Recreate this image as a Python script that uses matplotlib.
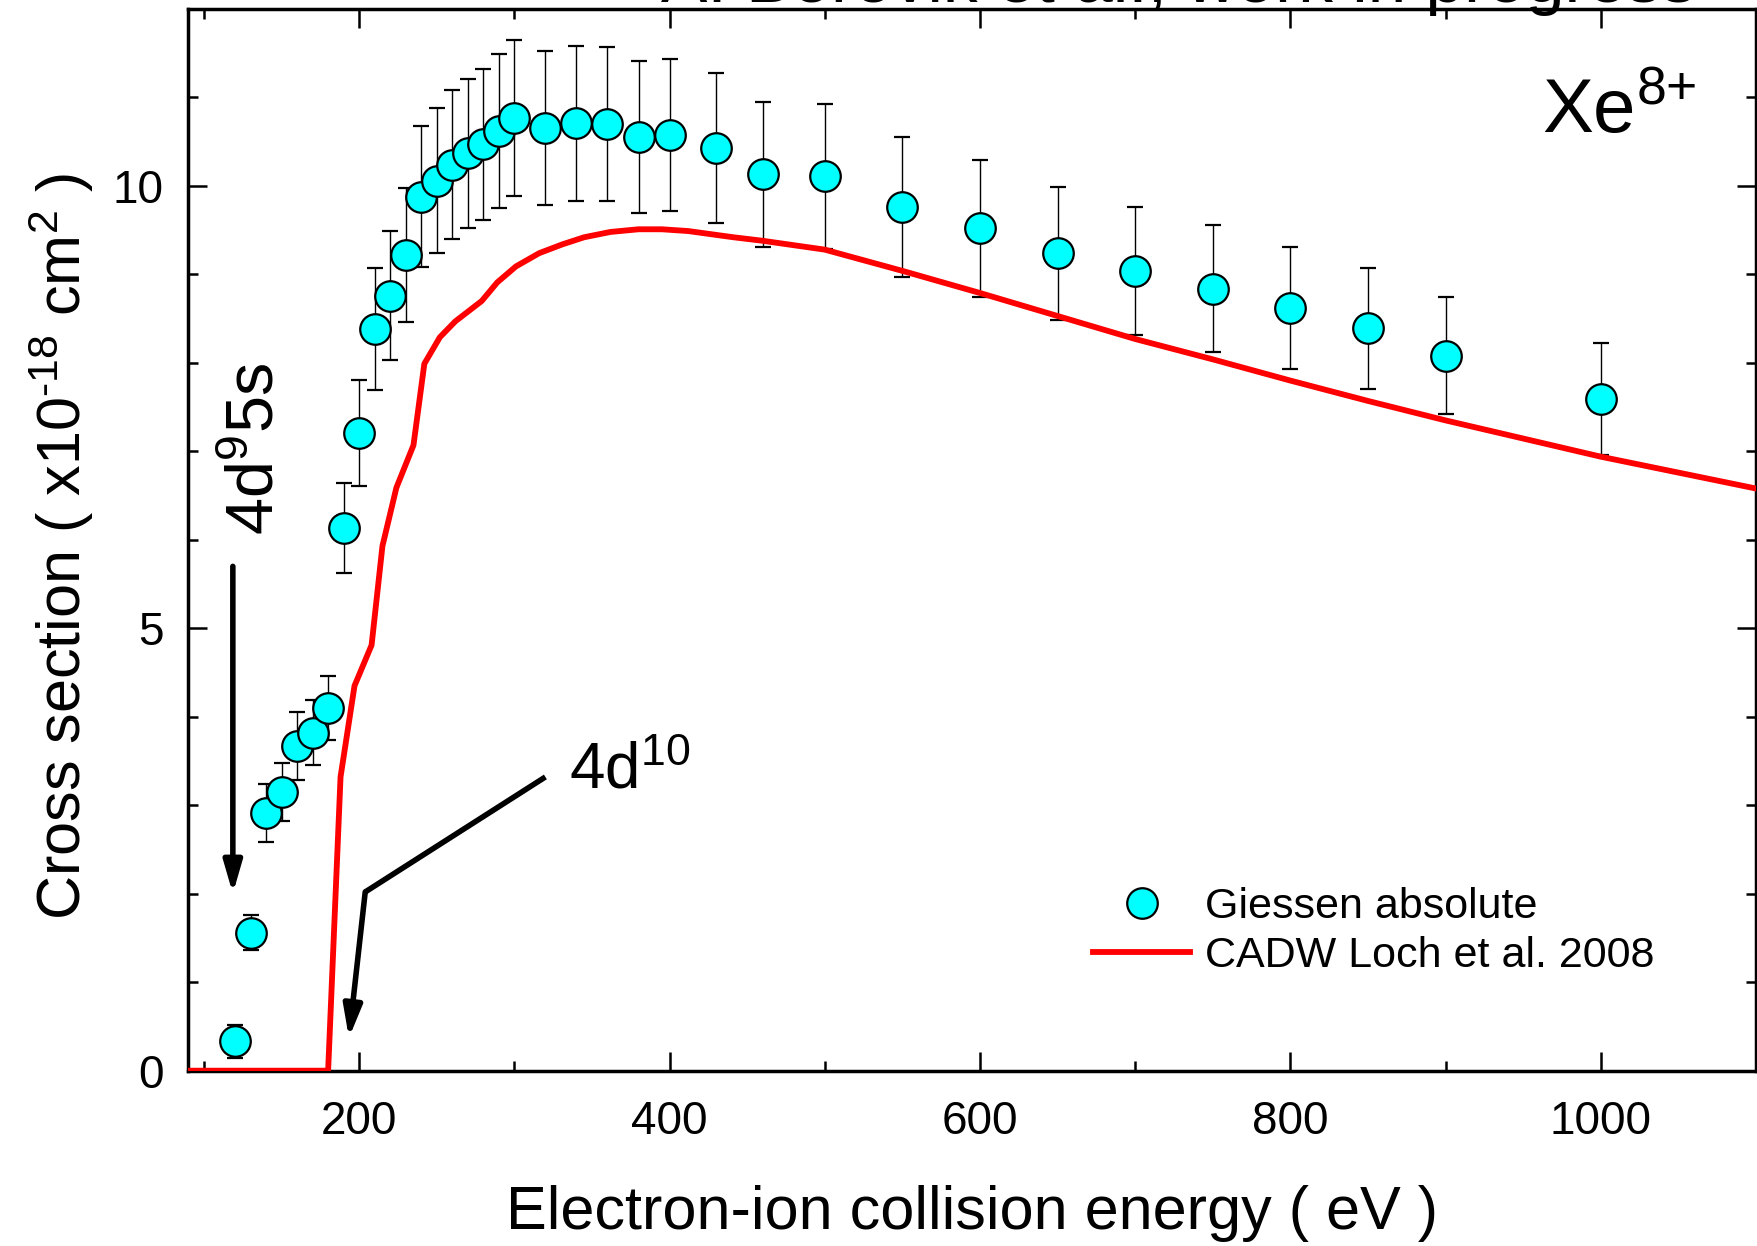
import matplotlib
matplotlib.use("Agg")
import matplotlib.pyplot as plt
from matplotlib.lines import Line2D
from matplotlib.ticker import MultipleLocator

plt.rcParams['font.family'] = ['Liberation Sans', 'DejaVu Sans']
plt.rcParams['mathtext.fontset'] = 'custom'
plt.rcParams['mathtext.rm'] = 'Liberation Sans'
plt.rcParams['mathtext.it'] = 'Liberation Sans:italic'
plt.rcParams['mathtext.default'] = 'rm'

# Giessen absolute measurement (eV, 1e-18 cm^2)
giessen_energy = [120, 130, 140, 150, 160, 170, 180, 190, 200, 210, 220, 230,
                  240, 250, 260, 270, 280, 290, 300, 320, 340, 360, 380, 400,
                  430, 460, 500, 550, 600, 650, 700, 750, 800, 850, 900, 1000]
giessen_sigma = [0.33, 1.56, 2.91, 3.15, 3.67, 3.82, 4.10, 6.13, 7.21, 8.38, 8.76, 9.22,
                 9.88, 10.06, 10.24, 10.37, 10.47, 10.62, 10.77, 10.65, 10.71, 10.70, 10.55, 10.58,
                 10.43, 10.13, 10.11, 9.76, 9.52, 9.24, 9.04, 8.84, 8.62, 8.39, 8.08, 7.59]
giessen_err = [0.19, 0.20, 0.33, 0.33, 0.38, 0.37, 0.36, 0.51, 0.60, 0.69, 0.73, 0.76,
               0.80, 0.82, 0.84, 0.84, 0.85, 0.87, 0.88, 0.87, 0.875, 0.87, 0.86, 0.86,
               0.85, 0.82, 0.82, 0.79, 0.77, 0.75, 0.725, 0.72, 0.69, 0.685, 0.66, 0.63]

# CADW theory, Loch et al. 2008
cadw_energy = [90, 180, 188, 197, 208, 215, 224, 235, 242, 252, 262, 279, 289, 301,
               316, 331, 345, 362, 380, 395, 412, 441, 460, 500, 550, 600, 650, 700,
               750, 800, 850, 900, 1000, 1100]
cadw_sigma = [0, 0, 3.32, 4.35, 4.81, 5.93, 6.59, 7.07, 7.99, 8.29, 8.47, 8.70, 8.91, 9.09,
              9.24, 9.34, 9.42, 9.48, 9.51, 9.51, 9.49, 9.42, 9.38, 9.28, 9.04, 8.79, 8.53, 8.27,
              8.04, 7.80, 7.57, 7.35, 6.94, 6.58]

fig = plt.figure(figsize=(17.58, 12.46), dpi=100)
ax = fig.add_axes([0.1072, 0.1407, 0.8916, 0.8521])

marker_style = dict(marker='o', ms=22, mfc='#00FFFF', mec='black', mew=1.6)
ax.errorbar(giessen_energy, giessen_sigma, yerr=giessen_err, ls='none',
            ecolor='black', elinewidth=1.0, capsize=6, capthick=1.5,
            zorder=2, **marker_style)
ax.plot(cadw_energy, cadw_sigma, color='#FF0000', lw=4.2, zorder=3)

ax.set_xlim(90, 1100)
ax.set_ylim(0, 12)
ax.xaxis.set_major_locator(MultipleLocator(200))
ax.xaxis.set_minor_locator(MultipleLocator(100))
ax.yaxis.set_major_locator(MultipleLocator(5))
ax.yaxis.set_minor_locator(MultipleLocator(1))
ax.tick_params(which='both', direction='in', top=True, right=True, width=1.8,
               labelsize=33)
ax.tick_params(which='major', length=14)
ax.tick_params(which='minor', length=7)
ax.tick_params(axis='x', pad=21)
ax.tick_params(axis='y', pad=18)
for s in ax.spines.values():
    s.set_linewidth(2.5)

ax.set_xlabel('Electron-ion collision energy ( eV )', fontsize=44)
ax.set_ylabel(r'Cross section ( x10$^{\text{-}18}$ cm$^2$ )', fontsize=44)
ax.xaxis.set_label_coords(0.5, -0.108)
ax.yaxis.set_label_coords(-0.059, 0.494)

# annotations
ax.text(962, 10.6, r'Xe$^{8{+}}$', fontsize=55, va='baseline')
ax.text(134, 7.03, r'4d$^9$5s', fontsize=48, rotation=90, ha='center', va='center')
ax.annotate('', xy=(118.6, 2.0), xytext=(118.6, 5.70),
            arrowprops=dict(arrowstyle='-|>,head_length=1.9,head_width=0.55',
                            lw=4, color='black', shrinkA=0, shrinkB=0,
                            mutation_scale=10))
ax.text(335, 3.38, r'4d$^{10}$', fontsize=46, va='center')
ax.plot([320, 203.9], [3.32, 2.02], color='black', lw=4, solid_capstyle='butt')
ax.annotate('', xy=(193.4, 0.37), xytext=(203.9, 2.02),
            arrowprops=dict(arrowstyle='-|>,head_length=1.9,head_width=0.55',
                            lw=4, color='black', shrinkA=0, shrinkB=0,
                            mutation_scale=10))

handles = [Line2D([], [], ls='none', **marker_style),
           Line2D([], [], color='#FF0000', lw=4.2)]
ax.legend(handles, ['Giessen absolute', 'CADW Loch et al. 2008'],
          loc='center left', bbox_to_anchor=(0.577, 0.131), frameon=False,
          fontsize=31, handlelength=2.26, handletextpad=0.34, labelspacing=0.2,
          borderpad=0, borderaxespad=0, numpoints=1)

fig.text(0.376, 0.9984, 'A. Borovik et al., work in progress', fontsize=50,
         va='baseline')

fig.savefig('out.png', dpi=100)
